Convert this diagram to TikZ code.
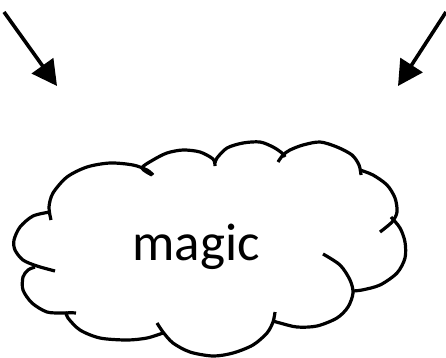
\documentclass[tikz,border=0pt]{standalone}
\usepackage{fontspec}
\setmainfont{Carlito}
\usetikzlibrary{arrows.meta}
\begin{document}
\begin{tikzpicture}[x=1pt,y=-1pt,
  puff/.style={line width=3.2pt,line cap=butt},
  bigarrow/.style={line width=3.6pt,-{Triangle[length=25pt,width=26pt]}},
  label/.style={font=\fontsize{53}{60}\selectfont,inner sep=0pt,anchor=base}]
\useasboundingbox (0,0) rectangle (446,357);
% arrows
\coordinate (la0) at (4,12);
\coordinate (la1) at (57,86);
\coordinate (ra0) at (446,12);
\coordinate (ra1) at (398,86);
\draw[bigarrow] (la0) -- (la1);
\draw[bigarrow] (ra0) -- (ra1);
% cloud
\draw[puff] plot[smooth] coordinates {(51,220) (49,207) (53,193) (67,177) (87,167) (110,163) (133,165) (147,170) (153,175)};
\draw[puff] plot[smooth] coordinates {(152,175) (142,168) (153,160) (167,153) (183,150) (200,152) (213,159) (215,166)};
\draw[puff] plot[smooth] coordinates {(215,163) (217,158) (227,148) (243,143) (260,142) (273,147) (282,153) (285,157)};
\draw[puff] plot[smooth] coordinates {(278,162) (283,155) (290,150) (303,145) (320,142) (337,147) (352,155) (359,165) (361,175)};
\draw[puff] plot[smooth] coordinates {(360,170) (373,175) (387,185) (395,198) (397,212) (392,222) (380,232)};
\draw[puff] plot[smooth] coordinates {(391,217) (400,228) (405,242) (405,258) (397,273) (380,285) (362,290) (352,291)};
\draw[puff] plot[smooth] coordinates {(323,254) (340,265) (350,280) (353,293) (348,307) (337,318) (317,326) (297,327) (280,323) (273,321)};
\draw[puff] plot[smooth] coordinates {(275,312) (273,322) (267,333) (253,345) (233,353) (213,356) (190,352) (173,343) (163,332) (157,323)};
\draw[puff] plot[smooth] coordinates {(163,333) (147,338) (127,340) (100,338) (80,330) (68,318) (67,313) (76,313)};
\draw[puff] plot[smooth] coordinates {(67,313) (63,313) (47,312) (32,303) (23,290) (23,277) (28,270) (35,267)};
\draw[puff] plot[smooth] coordinates {(50,212) (33,216) (20,227) (14,240) (15,250) (23,260) (37,266) (55,271)};
% text
\node[label] (magic) at (196,260) {magic};
\end{tikzpicture}
\end{document}
